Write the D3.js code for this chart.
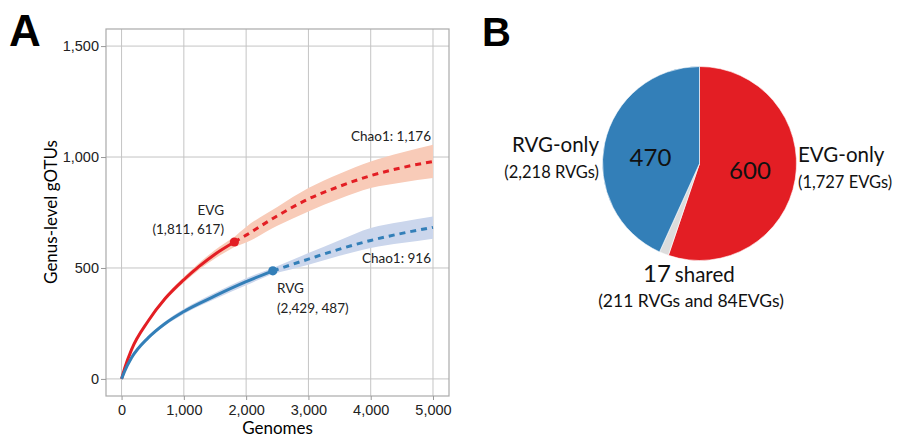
<!DOCTYPE html>
<html>
<head>
<meta charset="utf-8">
<script src="https://cdn.jsdelivr.net/npm/d3@7"></script>
<style>
  body { margin: 0; background: #fff; }
  svg { display: block; font-family: Lato, "Open Sans", sans-serif; }
  .axis text { font-size: 14.5px; fill: #222; }
  .axis path { display: none; }
  .axis line { stroke: #999; }
</style>
</head>
<body>
<svg id="chart" width="909" height="436"></svg>
<script>
// --- panel A: rarefaction curves (genomes vs genus-level gOTUs) ---
var evgX     = [0, 50, 160, 430, 700, 1000, 1250, 1500, 1811];
var evgY     = [0, 48, 132, 262, 362, 447, 508, 562, 617];
var evgLo    = [0, 46, 128, 255, 352, 435, 493, 543, 595];
var evgHi    = [0, 50, 136, 269, 372, 459, 523, 581, 640];
var evgExtX  = [1811, 2000, 2500, 3000, 3500, 4000, 4500, 5000];
var evgExtY  = [617, 648, 735, 811, 868, 916, 952, 980];
var evgExtLo = [595, 615, 690, 755, 812, 860, 885, 905];
var evgExtHi = [640, 685, 775, 860, 925, 980, 1020, 1055];

var rvgX     = [0, 50, 160, 430, 700, 1000, 1500, 2000, 2429];
var rvgY     = [0, 35, 95, 186, 250, 304, 374, 438, 487];
var rvgLo    = [0, 33, 91, 179, 241, 293, 360, 422, 474];
var rvgHi    = [0, 37, 99, 193, 259, 315, 388, 454, 500];
var rvgExtX  = [2429, 3000, 3500, 4000, 4500, 5000];
var rvgExtY  = [487, 540, 585, 624, 656, 683];
var rvgExtLo = [474, 515, 555, 590, 612, 632];
var rvgExtHi = [500, 567, 625, 680, 708, 732];

var xTicks = [0, 1000, 2000, 3000, 4000, 5000];
var yTicks = [0, 500, 1000, 1500];

// --- panel B: shared / unique genera ---
var pieNames  = ["EVG-only", "shared", "RVG-only"];
var pieValues = [600, 17, 470];

var RED = "#e31e24", BLUE = "#337fb8";
var RED_BAND = "#f8cbb8", BLUE_BAND = "#cbd6ec", GREY = "#dcdcdc";

var svg = d3.select("#chart");

// ---------- A ----------
var frame = { left: 106, right: 449, top: 29, bottom: 396 };
var x = d3.scaleLinear().domain([-250, 5257]).range([frame.left, frame.right]);
var y = d3.scaleLinear().domain([-77, 1577]).range([frame.bottom, frame.top]);

var gA = svg.append("g");

gA.append("text").attr("x", 9).attr("y", 46)
  .style("font-family", "'Liberation Sans', Arial, sans-serif")
  .style("font-weight", "bold").style("font-size", "44px").text("A");

// grid
gA.append("g").selectAll("line").data(xTicks).join("line")
  .attr("x1", d => x(d)).attr("x2", d => x(d))
  .attr("y1", frame.top).attr("y2", frame.bottom)
  .attr("stroke", "#c4c4c4").attr("stroke-width", 1);
gA.append("g").selectAll("line").data(yTicks).join("line")
  .attr("x1", frame.left).attr("x2", frame.right)
  .attr("y1", d => y(d)).attr("y2", d => y(d))
  .attr("stroke", "#c4c4c4").attr("stroke-width", 1);

gA.append("rect")
  .attr("x", frame.left).attr("y", frame.top)
  .attr("width", frame.right - frame.left).attr("height", frame.bottom - frame.top)
  .attr("fill", "none").attr("stroke", "#aaa").attr("stroke-width", 1.2);

gA.append("g").attr("class", "axis")
  .attr("transform", "translate(0," + frame.bottom + ")")
  .call(d3.axisBottom(x).tickValues(xTicks).tickFormat(d3.format(",")).tickSize(4).tickPadding(5));
gA.append("g").attr("class", "axis")
  .attr("transform", "translate(" + frame.left + ",0)")
  .call(d3.axisLeft(y).tickValues(yTicks).tickFormat(d3.format(",")).tickSize(5).tickPadding(2));

gA.append("text").attr("x", (frame.left + frame.right) / 2).attr("y", 433.5)
  .attr("text-anchor", "middle").style("font-size", "17px").text("Genomes");
gA.append("text")
  .attr("transform", "translate(57," + 212 + ") rotate(-90)")
  .attr("text-anchor", "middle").style("font-size", "17px").text("Genus-level gOTUs");

function zip(xs, ys, lo, hi) {
  return xs.map((v, i) => ({ x: v, y: ys[i], lo: lo[i], hi: hi[i] }));
}
var area = d3.area().curve(d3.curveMonotoneX)
  .x(d => x(d.x)).y0(d => y(d.lo)).y1(d => y(d.hi));
var line = d3.line().curve(d3.curveMonotoneX)
  .x(d => x(d.x)).y(d => y(d.y));

var series = [
  { obs: zip(evgX, evgY, evgLo, evgHi), ext: zip(evgExtX, evgExtY, evgExtLo, evgExtHi), c: RED, band: RED_BAND },
  { obs: zip(rvgX, rvgY, rvgLo, rvgHi), ext: zip(rvgExtX, rvgExtY, rvgExtLo, rvgExtHi), c: BLUE, band: BLUE_BAND }
];

var plot = gA.append("g");
series.forEach(s => {
  plot.append("path").attr("d", area(s.obs)).attr("fill", s.band);
  plot.append("path").attr("d", area(s.ext)).attr("fill", s.band);
});
series.forEach(s => {
  plot.append("path").attr("d", line(s.ext)).attr("fill", "none")
    .attr("stroke", s.c).attr("stroke-width", 3).attr("stroke-dasharray", "6,5");
  plot.append("path").attr("d", line(s.obs)).attr("fill", "none")
    .attr("stroke", s.c).attr("stroke-width", 3);
  var last = s.obs[s.obs.length - 1];
  plot.append("circle").attr("cx", x(last.x)).attr("cy", y(last.y)).attr("r", 4.6).attr("fill", s.c);
});

var lab = gA.append("g").style("font-size", "13.5px").attr("fill", "#222");
lab.append("text").attr("x", 224).attr("y", 215).attr("text-anchor", "end").text("EVG");
lab.append("text").attr("x", 224).attr("y", 234).attr("text-anchor", "end").text("(1,811, 617)");
lab.append("text").attr("x", 277).attr("y", 293).text("RVG");
lab.append("text").attr("x", 277).attr("y", 313).text("(2,429, 487)");
lab.append("text").attr("x", 431).attr("y", 141).attr("text-anchor", "end").text("Chao1: 1,176");
lab.append("text").attr("x", 431).attr("y", 263).attr("text-anchor", "end").text("Chao1: 916");

// ---------- B ----------
var gB = svg.append("g");
gB.append("text").attr("x", 482).attr("y", 46)
  .style("font-family", "'Liberation Sans', Arial, sans-serif")
  .style("font-weight", "bold").style("font-size", "40px").text("B");

var cx = 699.5, cy = 163.5, r = 97;
var pieData = d3.pie().sort(null).value(d => d.v)(pieNames.map((n, i) => ({ name: n, v: pieValues[i] })));
var arc = d3.arc().innerRadius(0).outerRadius(r);
var pieColor = d3.scaleOrdinal().domain(pieNames).range([RED, GREY, BLUE]);

gB.append("g").attr("transform", "translate(" + cx + "," + cy + ")")
  .selectAll("path").data(pieData).join("path")
  .attr("d", arc).attr("fill", d => pieColor(d.data.name))
  .attr("stroke", "#fff").attr("stroke-width", 0.6);

var pl = gB.append("g").attr("fill", "#111");
pl.append("text").attr("x", 650.5).attr("y", 166).attr("text-anchor", "middle")
  .style("font-size", "24px").text(pieValues[2]);
pl.append("text").attr("x", 750).attr("y", 179).attr("text-anchor", "middle")
  .style("font-size", "24px").text(pieValues[0]);

pl.append("text").attr("x", 599).attr("y", 152).attr("text-anchor", "end")
  .style("font-size", "20.5px").text("RVG-only");
pl.append("text").attr("x", 599).attr("y", 178).attr("text-anchor", "end")
  .style("font-size", "16.5px").text("(2,218 RVGs)");
pl.append("text").attr("x", 798).attr("y", 162)
  .style("font-size", "20.5px").text("EVG-only");
pl.append("text").attr("x", 798).attr("y", 188)
  .style("font-size", "16.5px").text("(1,727 EVGs)");

var sh = pl.append("text").attr("x", 643).attr("y", 282);
sh.append("tspan").style("font-size", "24px").text(pieValues[1]);
sh.append("tspan").attr("dx", 4).style("font-size", "20.5px").text("shared");
pl.append("text").attr("x", 691).attr("y", 307).attr("text-anchor", "middle")
  .style("font-size", "17.5px").text("(211 RVGs and 84EVGs)");
</script>
</body>
</html>
